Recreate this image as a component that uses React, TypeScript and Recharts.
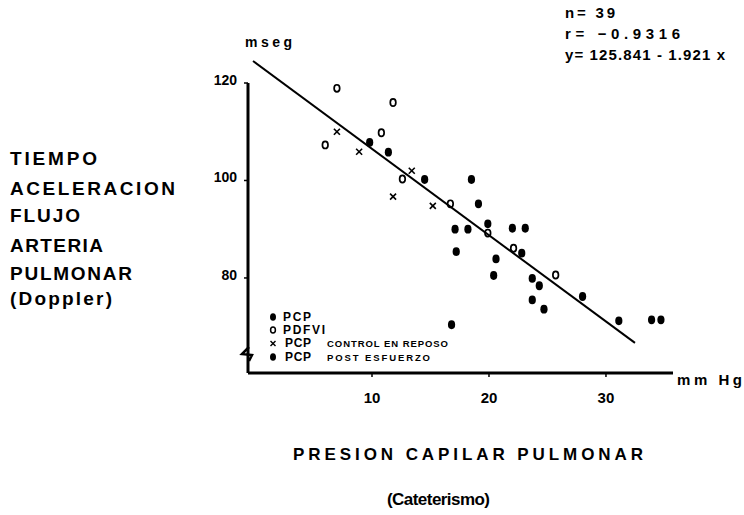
import React from 'react';
import { ScatterChart, Scatter, XAxis, YAxis, ReferenceLine } from 'recharts';

const W = 744;
const H = 515;
const FONT = '"Liberation Sans", Arial, sans-serif';

// PCP (filled dots)
const pcpPoints = [
  { x: 5.8, y: 120.9 }, { x: 9.8, y: 107.8 }, { x: 11.4, y: 105.8 }, { x: 14.5, y: 100.2 },
  { x: 18.5, y: 100.2 }, { x: 19.1, y: 95.2 }, { x: 17.1, y: 90.0 }, { x: 18.2, y: 90.0 },
  { x: 19.9, y: 91.1 }, { x: 23.1, y: 90.2 }, { x: 17.2, y: 85.4 }, { x: 22.8, y: 85.1 },
  { x: 20.6, y: 83.9 }, { x: 20.4, y: 80.5 }, { x: 23.7, y: 79.9 }, { x: 24.3, y: 78.4 },
  { x: 23.7, y: 75.5 }, { x: 28.0, y: 76.2 }, { x: 31.1, y: 71.2 }, { x: 33.9, y: 71.4 },
  { x: 34.7, y: 71.4 },
];
// PCP post esfuerzo
const postPoints = [
  { x: 22.0, y: 90.2 }, { x: 24.7, y: 73.6 }, { x: 16.8, y: 70.4 },
];
// PDFVI (open circles)
const pdfviPoints = [
  { x: 7.0, y: 118.9 }, { x: 11.8, y: 116.0 }, { x: 10.8, y: 109.8 }, { x: 6.0, y: 107.3 },
  { x: 12.6, y: 100.3 }, { x: 16.7, y: 95.2 }, { x: 19.9, y: 89.2 }, { x: 22.1, y: 86.1 },
  { x: 25.7, y: 80.6 },
];
// PCP control en reposo (crosses)
const controlPoints = [
  { x: 7.0, y: 110.0 }, { x: 8.9, y: 105.9 }, { x: 13.4, y: 102.0 }, { x: 11.8, y: 96.7 },
  { x: 15.2, y: 94.8 },
];
// regression line as drawn
const fitLine = [
  { x: -0.17, y: 124.5 },
  { x: 32.48, y: 66.67 },
];

const xTicks = [10, 20, 30];
const yTicks = [80, 100, 120];
const xDomain = [-0.6, 35.73];
const yDomain = [60.5, 120];

const statsLines = ['n= 39', 'r= \u22120.9316', 'y= 125.841 - 1.921 x'];
const yTitleLines = ['TIEMPO', 'ACELERACION', 'FLUJO', 'ARTERIA', 'PULMONAR', '(Doppler)'];

const DotShape = (p: any) => <ellipse cx={p.cx} cy={p.cy} rx={3.6} ry={4.4} fill="#000" />;
const CircleShape = (p: any) => (
  <ellipse cx={p.cx} cy={p.cy} rx={2.8} ry={3.6} fill="none" stroke="#000" strokeWidth={1.7} />
);
const CrossShape = (p: any) => (
  <g stroke="#000" strokeWidth={1.6}>
    <line x1={p.cx - 3} y1={p.cy - 3} x2={p.cx + 3} y2={p.cy + 3} />
    <line x1={p.cx - 3} y1={p.cy + 3} x2={p.cx + 3} y2={p.cy - 3} />
  </g>
);

const XTick = (p: any) => (
  <text x={p.x} y={p.y} dy="0.71em" textAnchor="middle" fontSize={15} fontWeight="bold"
    fontFamily={FONT} fill="#000">
    {p.payload.value}
  </text>
);
const YTick = (p: any) => (
  <text x={p.x} y={p.y - 3} dy="0.355em" textAnchor="end" fontSize={14} fontWeight="bold"
    fontFamily={FONT} fill="#000">
    {p.payload.value}
  </text>
);

export default function App() {
  return (
    <div style={{ position: 'absolute', left: 0, top: 0, width: W, height: H, background: '#fff' }}>
      <ScatterChart
        width={W}
        height={H}
        margin={{ top: 83, left: 208, right: 71, bottom: 112 }}
      >
        <XAxis
          type="number"
          dataKey="x"
          domain={xDomain}
          ticks={xTicks}
          allowDataOverflow
          height={30}
          axisLine={{ stroke: '#000', strokeWidth: 3 }}
          tickLine={{ stroke: '#000', strokeWidth: 1.5 }}
          tickSize={4}
          tickMargin={15}
          tick={<XTick />}
        />
        <YAxis
          type="number"
          dataKey="y"
          domain={yDomain}
          ticks={yTicks}
          allowDataOverflow
          width={40}
          axisLine={{ stroke: '#000', strokeWidth: 3 }}
          tickLine={{ stroke: '#000', strokeWidth: 1.5 }}
          tickSize={4}
          tickMargin={7}
          tick={<YTick />}
        />
        <ReferenceLine
          segment={fitLine}
          stroke="#000"
          strokeWidth={2}
          ifOverflow="visible"
        />
        <Scatter data={pcpPoints} shape={DotShape} isAnimationActive={false} />
        <Scatter data={postPoints} shape={DotShape} isAnimationActive={false} />
        <Scatter data={pdfviPoints} shape={CircleShape} isAnimationActive={false} />
        <Scatter data={controlPoints} shape={CrossShape} isAnimationActive={false} />
      </ScatterChart>
      <svg
        width={W}
        height={H}
        style={{ position: 'absolute', left: 0, top: 0, pointerEvents: 'none' }}
        fontFamily={FONT}
        fill="#000"
      >
        {/* axis break mark */}
        <path d="M249,347 L242,354 L252,355 L249,361" fill="none" stroke="#000" strokeWidth={2.5} />
        <text x={245} y={47} fontSize={14} fontWeight="bold" textLength={47} lengthAdjust="spacing">mseg</text>
        {statsLines.map((t, i) => (
          <text key={t} x={565} y={18 + i * 21} fontSize={15} fontWeight="bold"
            textLength={[50, 115, 160][i]} lengthAdjust="spacing">{t}</text>
        ))}
        {yTitleLines.map((t, i) => (
          <text key={t} x={10} y={[165, 195, 222, 252, 280, 305][i]} fontSize={19} fontWeight="bold"
            textLength={[87, 165, 70, 93, 122, 102][i]} lengthAdjust="spacing">{t}</text>
        ))}
        <text x={293} y={460} fontSize={17} fontWeight="bold" textLength={350} lengthAdjust="spacing">PRESION  CAPILAR  PULMONAR</text>
        <text x={387} y={505} fontSize={17} fontWeight="bold" textLength={103} lengthAdjust="spacing">(Cateterismo)</text>
        <text x={677} y={385} fontSize={15} fontWeight="bold" textLength={65} lengthAdjust="spacing">mm  Hg</text>
        {/* legend */}
        <ellipse cx={273} cy={317} rx={3} ry={3.8} />
        <text x={283} y={321} fontSize={12} fontWeight="bold" textLength={28} lengthAdjust="spacing">PCP</text>
        <ellipse cx={273} cy={330} rx={2.4} ry={3} fill="none" stroke="#000" strokeWidth={1.5} />
        <text x={283} y={334} fontSize={12} fontWeight="bold" textLength={42} lengthAdjust="spacing">PDFVI</text>
        <g stroke="#000" strokeWidth={1.4}>
          <line x1={270.5} y1={341} x2={275.5} y2={346} />
          <line x1={270.5} y1={346} x2={275.5} y2={341} />
        </g>
        <text x={285} y={347} fontSize={12} fontWeight="bold" textLength={26} lengthAdjust="spacing">PCP</text>
        <text x={327} y={347} fontSize={9.5} fontWeight="bold" textLength={121} lengthAdjust="spacing">CONTROL EN REPOSO</text>
        <ellipse cx={273} cy={357} rx={3} ry={3.8} />
        <text x={285} y={361} fontSize={12} fontWeight="bold" textLength={26} lengthAdjust="spacing">PCP</text>
        <text x={327} y={361} fontSize={9.5} fontWeight="bold" textLength={103} lengthAdjust="spacing">POST ESFUERZO</text>
      </svg>
    </div>
  );
}
